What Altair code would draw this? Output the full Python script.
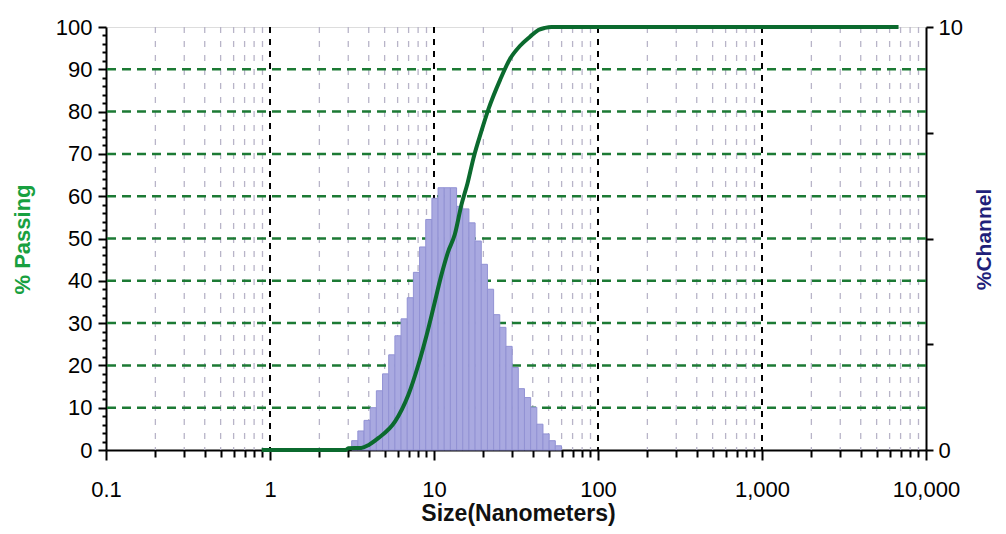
import altair as alt
import pandas as pd

# ---- data ----
# histogram channels (nm): lower / upper edges and % in channel
bin_lo = [3.148, 3.433, 3.744, 4.083, 4.452, 4.855, 5.295, 5.774, 6.297, 6.867,
          7.488, 8.166, 8.905, 9.711, 10.59, 11.548, 12.593, 13.733, 14.976, 16.331,
          17.809, 19.421, 21.179, 23.096, 25.186, 27.465, 29.951, 32.662, 35.618, 38.841,
          42.356, 46.189, 50.369, 54.928]
bin_hi = [3.433, 3.744, 4.083, 4.452, 4.855, 5.295, 5.774, 6.297, 6.867, 7.488,
          8.166, 8.905, 9.711, 10.59, 11.548, 12.593, 13.733, 14.976, 16.331, 17.809,
          19.421, 21.179, 23.096, 25.186, 27.465, 29.951, 32.662, 35.618, 38.841, 42.356,
          46.189, 50.369, 54.928, 59.899]
channel_pct = [0.22, 0.45, 0.7, 1.0, 1.4, 1.8, 2.25, 2.7, 3.1, 3.6,
               4.2, 4.8, 5.45, 5.95, 6.2, 6.2, 6.2, 5.76, 5.7, 5.37,
               4.94, 4.39, 3.8, 3.2, 2.9, 2.45, 1.95, 1.45, 1.24, 1.01,
               0.61, 0.38, 0.22, 0.1]

# cumulative % passing curve
size_nm = [0.89, 2.9, 3.0, 3.6, 4.0, 4.57, 5.78, 6.97, 8.02, 9.02, 9.9, 11.1,
           12.2, 13.4, 14.7, 16.0, 17.4, 19.5, 21.4, 25.3, 29.1, 33.4, 38.5,
           43.3, 47.5, 52.0, 6800.0]
passing = [0, 0, 0.4, 0.5, 1.2, 2.8, 6.7, 13.0, 20.1, 27.2, 33.5, 41.4,
           46.9, 51.0, 58.0, 63.0, 69.0, 75.5, 80.4, 87.5, 92.5, 95.5, 97.7,
           99.3, 99.8, 100, 100]

decades = [0.1, 1, 10, 100, 1000, 10000]
major_grid = [1, 10, 100, 1000]
minor_grid = [0.2, 0.3, 0.4, 0.5, 0.6, 0.7, 0.8, 0.9,
              2, 3, 4, 5, 6, 7, 8, 9,
              20, 30, 40, 50, 60, 70, 80, 90,
              200, 300, 400, 500, 600, 700, 800, 900,
              2000, 3000, 4000, 5000, 6000, 7000, 8000, 9000]
h_grid = [10, 20, 30, 40, 50, 60, 70, 80, 90]
left_ticks = list(range(0, 101, 2))
right_ticks = [0, 2.5, 5, 7.5, 10]

hist = pd.DataFrame({"lo": bin_lo, "hi": bin_hi, "pct": channel_pct})
curve = pd.DataFrame({"size": size_nm, "passing": passing})

FONT = "DejaVu Sans"
W, H = 820, 423

xscale = alt.Scale(type="log", domain=[0.1, 10000], nice=False)
major_test = "indexof([" + ",".join(str(d) for d in decades) + "], datum.value) >= 0"
x_axis = alt.Axis(
    values=sorted(decades + minor_grid), format=",",
    labelExpr=major_test + " ? datum.label : ''",
    labelOverlap=False, labelFlush=False, labelBound=False,
    tickSize={"condition": {"test": major_test, "value": 10}, "value": 7},
    tickColor="black", tickWidth=2, domainColor="black", domainWidth=2,
    grid=False, labelFontSize=22, labelColor="black", labelPadding=19,
    title="Size(Nanometers)", titleFontSize=23, titleFontWeight="bold",
    titleColor="#111111", titleX=W / 2 + 2, titleY=63,
    titleAlign="center", titleBaseline="middle",
)

left_axis = alt.Axis(
    values=left_ticks, labelExpr="datum.value % 10 === 0 ? datum.label : ''",
    tickSize={"condition": {"test": "datum.value % 10 === 0", "value": 8}, "value": 4},
    tickColor="black", tickWidth=2, domainColor="black", domainWidth=2,
    grid=False, labelFontSize=22, labelColor="black", labelPadding=6,
    labelOverlap=False, labelFlush=False,
    title="% Passing", titleFontSize=22, titleFontWeight="bold",
    titleColor="#18a040", titleAngle=270, titleX=-84, titleY=212,
    titleAlign="center", titleBaseline="middle",
)

right_axis = alt.Axis(
    orient="right", values=right_ticks,
    labelExpr="(datum.value === 0 || datum.value === 10) ? datum.label : ''",
    tickSize=7, tickColor="black", tickWidth=2, domainColor="black", domainWidth=2,
    grid=False, labelFontSize=22, labelColor="black", labelPadding=5,
    labelOverlap=False, labelFlush=False,
    title="%Channel", titleFontSize=21, titleFontWeight="bold",
    titleColor="#1f1f7a", titleAngle=270, titleX=58, titleY=212,
    titleAlign="center", titleBaseline="middle",
)

minor_rules = alt.Chart(pd.DataFrame({"v": minor_grid})).mark_rule(
    color="#b8b4c8", strokeWidth=1.3, strokeDash=[6, 8]
).encode(x=alt.X("v:Q", scale=xscale, axis=x_axis))

major_rules = alt.Chart(pd.DataFrame({"v": major_grid})).mark_rule(
    color="black", strokeWidth=2, strokeDash=[6, 6]
).encode(x=alt.X("v:Q", scale=xscale, axis=x_axis))

h_rules = alt.Chart(pd.DataFrame({"h": h_grid})).mark_rule(
    color="#1c7a34", strokeWidth=2.5, strokeDash=[9, 6]
).encode(y=alt.Y("h:Q", scale=alt.Scale(domain=[0, 100], nice=False), axis=None))

bars = alt.Chart(hist).mark_rect(
    color="#a9a9e0", stroke="#9292d4", strokeWidth=1
).encode(
    x=alt.X("lo:Q", scale=xscale, axis=x_axis),
    x2="hi:Q",
    y=alt.Y("pct:Q", scale=alt.Scale(domain=[0, 10], nice=False), axis=right_axis),
    y2=alt.datum(0),
)

line = alt.Chart(curve).mark_line(
    color="#0b6a2e", strokeWidth=4, interpolate="monotone"
).encode(
    x=alt.X("size:Q", scale=xscale, axis=x_axis),
    y=alt.Y("passing:Q", scale=alt.Scale(domain=[0, 100], nice=False), axis=left_axis),
)

chart = alt.layer(minor_rules, major_rules, h_rules, bars, line).resolve_scale(
    y="independent"
).properties(
    width=W, height=H,
    autosize=alt.AutoSizeParams(type="none"),
    padding={"left": 98, "top": 19, "right": 72, "bottom": 76},
).configure_view(
    stroke="black", strokeWidth=2
).configure_axis(
    labelFont=FONT, titleFont=FONT
).configure(background="white")

chart.save("out.html", embed_options={"renderer": "svg", "actions": False})
